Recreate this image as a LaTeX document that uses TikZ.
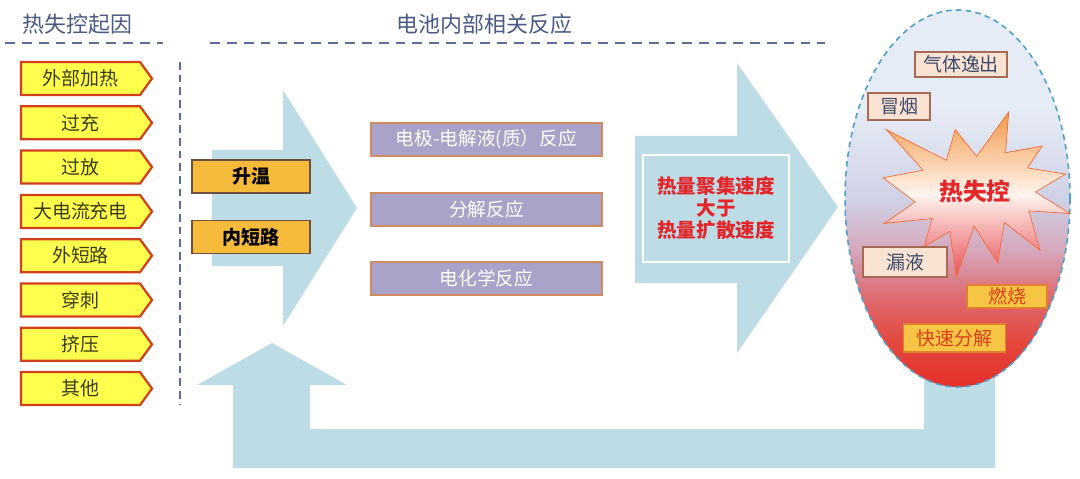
\documentclass[tikz,border=0pt]{standalone}
\usepackage{fontspec}
\setmainfont{Noto Sans CJK SC}
\usetikzlibrary{shapes.geometric}
\definecolor{titlecol}{HTML}{4A5A85}
\definecolor{dashcol}{HTML}{5B6E99}
\definecolor{causefill}{HTML}{FFFF4D}
\definecolor{causeedge}{HTML}{D2401E}
\definecolor{causetext}{HTML}{3C3C14}
\definecolor{arrowblue}{HTML}{BEDCE6}
\definecolor{goldfill}{HTML}{F6BB3B}
\definecolor{goldedge}{HTML}{6E5040}
\definecolor{purplefill}{HTML}{A9A2C9}
\definecolor{purpleedge}{HTML}{D08C60}
\definecolor{redtext}{HTML}{E3262A}
\definecolor{peachfill}{HTML}{FBE3D3}
\definecolor{peachedge}{HTML}{A66A55}
\definecolor{peachtext}{HTML}{3A4A6A}
\definecolor{firefill}{HTML}{F7C544}
\definecolor{fireedge}{HTML}{E08030}
\definecolor{firetext}{HTML}{D84020}
\definecolor{elledge}{HTML}{4A9FCC}
\definecolor{eA}{HTML}{E6ECF6}
\definecolor{eB}{HTML}{CFD2E6}
\definecolor{eC}{HTML}{D6A6BA}
\definecolor{eD}{HTML}{DE6A70}
\definecolor{eE}{HTML}{E4483E}
\definecolor{eF}{HTML}{E5302A}
\definecolor{burstTop}{HTML}{F39A4A}
\definecolor{burstMid}{HTML}{FFF4EE}
\definecolor{burstBot}{HTML}{E8505A}
\pgfdeclareverticalshading{ellshade}{100bp}{color(0bp)=(eF); color(25bp)=(eF); color(31bp)=(eE); color(37bp)=(eD); color(43bp)=(eC); color(50bp)=(eB); color(62bp)=(eA); color(100bp)=(eA)}
\begin{document}
\begin{tikzpicture}[x=0.025cm,y=-0.025cm,
  titletext/.style={text=titlecol, font=\fontsize{15.6}{18}\selectfont, inner sep=0pt},
  sepline/.style={draw=dashcol, line width=1.4pt, dash pattern=on 7pt off 5pt},
  vsepline/.style={draw=dashcol, line width=1.4pt, dash pattern=on 5.5pt off 3.5pt},
  causeshape/.style={draw=causeedge, fill=causefill, line width=1.6pt},
  causelabel/.style={text=causetext, font=\fontsize{13.5}{16}\selectfont, inner sep=0pt},
  bigarrow/.style={fill=arrowblue, draw=none},
  goldbox/.style={draw=goldedge, fill=goldfill, line width=1pt, minimum width=118*0.025cm, minimum height=33*0.025cm, inner sep=0pt, font=\fontsize{13.5}{16}\selectfont\bfseries, text=black},
  purplebox/.style={draw=purpleedge, fill=purplefill, line width=1pt, minimum width=231*0.025cm, minimum height=33*0.025cm, inner sep=0pt, font=\fontsize{13.3}{16}\selectfont, text=white},
  peachbox/.style={draw=peachedge, fill=peachfill, line width=1pt, inner sep=0pt, font=\fontsize{13.5}{16}\selectfont, text=peachtext},
  firebox/.style={draw=fireedge, fill=firefill, line width=1pt, inner sep=0pt, font=\fontsize{13.5}{16}\selectfont, text=firetext},
]
\useasboundingbox (0,0) rectangle (1080,479);
\fill[white] (0,0) rectangle (1080,479);

% titles and separators
\node[titletext] (t1) at (77.5,24) {热失控起因};
\node[titletext] (t2) at (484.5,24) {电池内部相关反应};
\draw[sepline] (5,43) -- (163,43);
\draw[sepline] (210,43) -- (825,43);
\draw[vsepline] (180,62) -- (180,404);

% causes
\foreach \t [count=\i] in {外部加热,过充,过放,大电流充电,外短路,穿刺,挤压,其他}{
  \pgfmathsetmacro\yc{78.5+(\i-1)*44.3}
  \draw[causeshape] (21,\yc-16.5) -- (140,\yc-16.5) -- (152,\yc) -- (140,\yc+16.5) -- (21,\yc+16.5) -- cycle;
  \node[causelabel] (c\i) at (80.5,\yc) {\t};
}

% feedback arrow
\fill[bigarrow] (233,468) -- (233,385) -- (197,385) -- (272,343) -- (347,385) -- (310,385) -- (310,429) -- (924,429) -- (924,340) -- (995,340) -- (995,468) -- cycle;

% big arrow 1
\fill[bigarrow] (212,150) -- (283,150) -- (283,90) -- (357,208) -- (283,326) -- (283,266) -- (212,266) -- cycle;
\node[goldbox] (sw) at (251,176.5) {升温};
\node[goldbox] (nd) at (251,237) {内短路};

% reactions
\node[purplebox] (r1) at (486.5,139.5) {电极-电解液(质）反应};
\node[purplebox] (r2) at (486.5,209.5) {分解反应};
\node[purplebox] (r3) at (486.5,278.5) {电化学反应};

% big arrow 2
\fill[bigarrow] (635,136) -- (737,136) -- (737,63) -- (838,207) -- (737,353) -- (737,283) -- (635,283) -- cycle;
\draw[white, line width=1.4pt] (643,155) rectangle (789,262);
\node[text=redtext, font=\fontsize{13.9}{15.6}\selectfont\bfseries, align=center, inner sep=0pt] (hq) at (716,208) {热量聚集速度\\大于\\热量扩散速度};

% ellipse
\node[ellipse, minimum width=225*0.025cm, minimum height=377*0.025cm, inner sep=0pt, shading=ellshade, draw=elledge, line width=1.1pt, dash pattern=on 4pt off 3pt] (ell) at (957.5,198.5) {};

% starburst
\begin{scope}[shift={(883,112)}, xscale=187/216, yscale=165/216]
\path[draw=burstTop!70!red, line width=0.5pt, top color=burstTop, bottom color=burstBot, middle color=burstMid]
 (108,58) -- (145.22,0) -- (141.55,53.25) -- (183.80,44.57) -- (167.02,73.15) -- (210.97,81.37) -- (176.07,104.75) -- (216,132.90) -- (168.37,129.42) -- (181.45,180.95) -- (140.20,144.57) -- (132.47,197.37) -- (105.32,149.35) -- (84.85,216) -- (77.15,156.27) -- (47.62,176.17) -- (56.67,139.37) -- (1.35,145.87) -- (37.22,117.75) -- (0,86.15) -- (46.27,76.17) -- (3.70,22.95) -- (73.12,63.20) -- (83.52,22.95) -- cycle;
\end{scope}
\node[text=redtext, font=\fontsize{17}{20}\selectfont\bfseries, inner sep=0pt] (rk) at (975,191) {热失控};

% effects
\node[peachbox, minimum width=92*0.025cm, minimum height=25*0.025cm] (e1) at (961,64.5) {气体逸出};
\node[peachbox, minimum width=62*0.025cm, minimum height=27*0.025cm] (e2) at (899,106.5) {冒烟};
\node[peachbox, minimum width=84*0.025cm, minimum height=30*0.025cm] (e3) at (905,262) {漏液};
\node[firebox, minimum width=80*0.025cm, minimum height=23*0.025cm] (e4) at (1007,296.5) {燃烧};
\node[firebox, minimum width=102*0.025cm, minimum height=28*0.025cm] (e5) at (954.5,338) {快速分解};
\end{tikzpicture}
\end{document}
